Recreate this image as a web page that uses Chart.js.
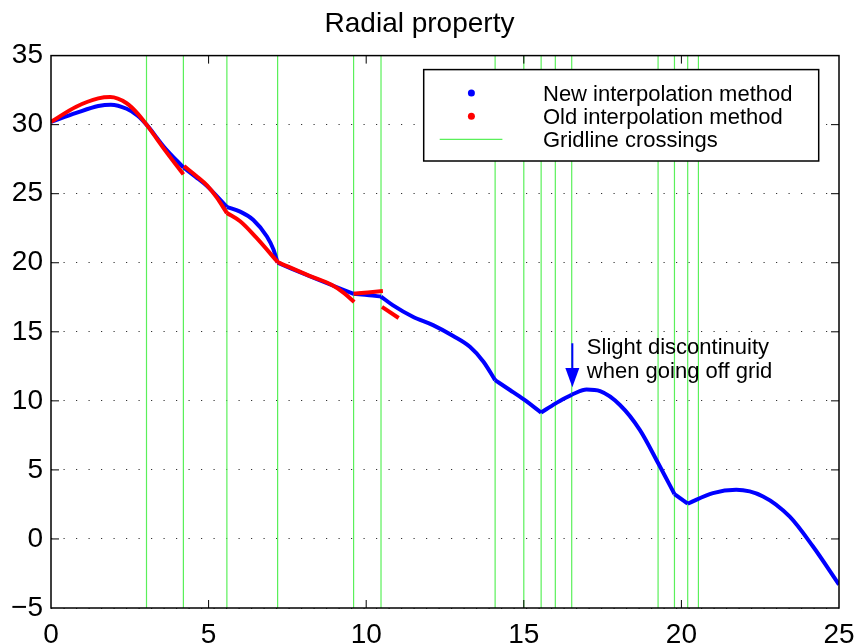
<!DOCTYPE html>
<html>
<head>
<meta charset="utf-8">
<title>Radial property</title>
<script src="https://cdn.jsdelivr.net/npm/chart.js@4"></script>
<style>
  html, body { margin: 0; padding: 0; background: #fff; }
  #wrap { width: 857px; height: 644px; }
</style>
</head>
<body>
<div id="wrap"><canvas id="chart" width="857" height="644"></canvas></div>
<script>
// ── Data ───────────────────────────────────────────────────
// New method: one list per stretch between gridline crossings (kinks sit at the joins)
const newMethodSegments = [
    [[0, 30.2], [0.8, 30.85], [1.5, 31.35], [1.9, 31.45], [2.4, 31.15], [2.75, 30.65], [3.03, 30.0], [3.6, 28.35], [4.2, 26.9]],
    [[4.2, 26.9], [4.6, 26.2], [4.95, 25.55], [5.58, 24.05]],
    [[5.58, 24.05], [6.0, 23.7], [6.42, 23.1], [6.85, 21.9], [7.06, 20.95], [7.19, 20.0]],
    [[7.19, 20.0], [8.5, 18.75], [9.6, 17.75]],
    [[9.6, 17.75], [10.1, 17.65], [10.47, 17.55]],
    [[10.47, 17.55], [10.84, 16.93], [11.48, 16.09], [12.12, 15.48], [12.76, 14.69], [13.29, 13.91], [13.72, 12.83], [14.09, 11.5]],
    [[14.09, 11.5], [14.57, 10.77], [15.0, 10.1], [15.55, 9.15]],
    [[15.55, 9.15], [16.0, 9.8], [16.52, 10.45]],
    [[16.52, 10.45], [16.99, 10.82], [17.42, 10.7], [18.05, 9.7], [18.68, 7.9], [19.26, 5.5], [19.78, 3.25]],
    [[19.78, 3.25], [20.2, 2.55]],
    [[20.2, 2.55], [21.0, 3.32], [21.74, 3.56], [22.59, 3.08], [23.43, 1.63], [24.17, -0.53], [25.0, -3.3]],
];

// Old method: pieces, some broken apart at the crossings
const oldMethodSegments = [
    [[0, 30.2], [0.8, 31.3], [1.5, 31.9], [1.88, 32.0], [2.4, 31.55], [2.75, 30.8], [3.03, 30.0], [3.65, 28.05], [4.2, 26.4]],
    [[4.22, 27.0], [4.6, 26.3], [4.95, 25.6], [5.25, 24.75], [5.58, 23.6]],
    [[5.58, 23.6], [6.0, 23.0], [6.5, 21.85], [7.19, 20.05]],
    [[7.19, 20.05], [8.2, 19.05], [8.9, 18.4], [9.3, 17.8], [9.62, 17.15]],
    [[9.6, 17.75], [10.05, 17.85], [10.53, 17.95]],
    [[10.5, 16.8], [11.03, 16.0]],
];

const gridCrossings = [3.03, 4.2, 5.58, 7.19, 9.6, 10.47, 14.09, 15.0, 15.55, 16.0, 16.52, 19.26, 19.78, 20.2, 20.54];

const xRange = [0, 25];
const yRange = [-5, 35];
const tickStep = 5;

const seriesLabels = ["New interpolation method", "Old interpolation method", "Gridline crossings"];
const noteLines = ["Slight discontinuity", "when going off grid"];

// ── Styling ────────────────────────────────────────────────
const FONT = "'Liberation Sans', Arial, Helvetica, sans-serif";
const BLUE  = "#0000ff";
const RED   = "#ff0000";
const GREEN = "rgb(90, 240, 90)";

Chart.defaults.font.family = FONT;
Chart.defaults.color = "#000";

const toPoints = seg => seg.map(([x, y]) => ({ x, y }));

function curveDataset(seg, color, order, label) {
    return {
        label,
        data: toPoints(seg),
        borderColor: color,
        backgroundColor: color,
        borderWidth: 4,
        pointRadius: 0,
        cubicInterpolationMode: "monotone",
        fill: false,
        order,
    };
}

// vertical lines, separated by gaps
const crossingPoints = [];
gridCrossings.forEach(x => {
    crossingPoints.push({ x, y: yRange[0] }, { x, y: yRange[1] }, { x, y: null });
});

const datasets = [
    ...oldMethodSegments.map(s => curveDataset(s, RED, 0, seriesLabels[1])),
    ...newMethodSegments.map(s => curveDataset(s, BLUE, 1, seriesLabels[0])),
    {
        label: seriesLabels[2],
        data: crossingPoints,
        borderColor: GREEN,
        borderWidth: 1.2,
        pointRadius: 0,
        spanGaps: false,
        fill: false,
        order: 2,
    },
];

// ── Legend box, note arrow and axes frame ──────────────────
const framePlugin = {
    id: "frame",
    afterDatasetsDraw(chart) {
        const { ctx, chartArea: a, scales: { x, y } } = chart;
        ctx.save();

        // legend
        const bw = 395, bh = 91.4;
        const bx = a.right - 415.3, by = a.top + 14;
        ctx.fillStyle = "#fff";
        ctx.fillRect(bx, by, bw, bh);
        ctx.strokeStyle = "#000";
        ctx.lineWidth = 1.5;
        ctx.strokeRect(bx, by, bw, bh);

        const rows = [by + 23.4, by + 46.7, by + 69.7];
        ctx.fillStyle = BLUE;
        ctx.beginPath(); ctx.arc(bx + 47.7, rows[0], 3.5, 0, Math.PI * 2); ctx.fill();
        ctx.fillStyle = RED;
        ctx.beginPath(); ctx.arc(bx + 47.7, rows[1], 3.5, 0, Math.PI * 2); ctx.fill();
        ctx.strokeStyle = GREEN;
        ctx.lineWidth = 1.2;
        ctx.beginPath(); ctx.moveTo(bx + 16, rows[2]); ctx.lineTo(bx + 78.7, rows[2]); ctx.stroke();

        ctx.fillStyle = "#000";
        ctx.font = "22px " + FONT;
        ctx.textBaseline = "alphabetic";
        ctx.textAlign = "left";
        seriesLabels.forEach((t, i) => ctx.fillText(t, bx + 119.3, rows[i] + 8));

        // note arrow
        const ax = x.getPixelForValue(16.54);
        const aTop = y.getPixelForValue(14.17);
        const aHead = y.getPixelForValue(12.38);
        const aTip = y.getPixelForValue(10.99);
        ctx.strokeStyle = BLUE;
        ctx.fillStyle = BLUE;
        ctx.lineWidth = 2;
        ctx.beginPath(); ctx.moveTo(ax, aTop); ctx.lineTo(ax, aHead); ctx.stroke();
        ctx.beginPath();
        ctx.moveTo(ax - 7, aHead); ctx.lineTo(ax + 7, aHead); ctx.lineTo(ax, aTip);
        ctx.closePath(); ctx.fill();

        ctx.fillStyle = "#000";
        const tx = x.getPixelForValue(17.0);
        ctx.fillText(noteLines[0], tx, y.getPixelForValue(13.4));
        ctx.fillText(noteLines[1], tx, y.getPixelForValue(11.63));

        // axes box with inward ticks
        ctx.strokeStyle = "#000";
        ctx.lineWidth = 1.5;
        ctx.strokeRect(a.left, a.top, a.width, a.height);
        ctx.lineWidth = 1;
        ctx.beginPath();
        for (let v = xRange[0] + tickStep; v < xRange[1]; v += tickStep) {
            const px = x.getPixelForValue(v);
            ctx.moveTo(px, a.bottom); ctx.lineTo(px, a.bottom - 8);
            ctx.moveTo(px, a.top);    ctx.lineTo(px, a.top + 8);
        }
        for (let v = yRange[0] + tickStep; v < yRange[1]; v += tickStep) {
            const py = y.getPixelForValue(v);
            ctx.moveTo(a.left, py);  ctx.lineTo(a.left + 8, py);
            ctx.moveTo(a.right, py); ctx.lineTo(a.right - 8, py);
        }
        ctx.stroke();
        ctx.restore();
    },
};

const minusSign = v => String(v).replace("-", "\u2212");

new Chart(document.getElementById("chart"), {
    type: "line",
    data: { datasets },
    options: {
        responsive: false,
        animation: false,
        layout: { padding: { left: 0, right: 18, top: 0, bottom: 0 } },
        plugins: {
            legend: { display: false },
            tooltip: { enabled: false },
            title: {
                display: true,
                text: "Radial property",
                color: "#000",
                font: { size: 28, weight: "normal" },
                padding: { top: 7, bottom: 15 },
            },
        },
        scales: {
            x: {
                type: "linear",
                min: xRange[0],
                max: xRange[1],
                afterFit(scale) {
                    scale.height = 36;
                    scale.paddingLeft = 0;
                    scale.paddingRight = 0;
                },
                grid: { display: false, drawTicks: false },
                border: { display: false },
                ticks: { stepSize: tickStep, padding: 10, color: "#000", font: { size: 28 }, callback: minusSign },
            },
            y: {
                type: "linear",
                min: yRange[0],
                max: yRange[1],
                afterFit(scale) {
                    scale.width = 51;
                    scale.paddingTop = 0;
                    scale.paddingBottom = 0;
                },
                grid: { color: "#333", lineWidth: 1, drawTicks: false },
                border: { display: false, dash: [1.2, 11.3] },
                ticks: { stepSize: tickStep, padding: 8, color: "#000", font: { size: 28 }, callback: minusSign },
            },
        },
    },
    plugins: [framePlugin],
});
</script>
</body>
</html>
